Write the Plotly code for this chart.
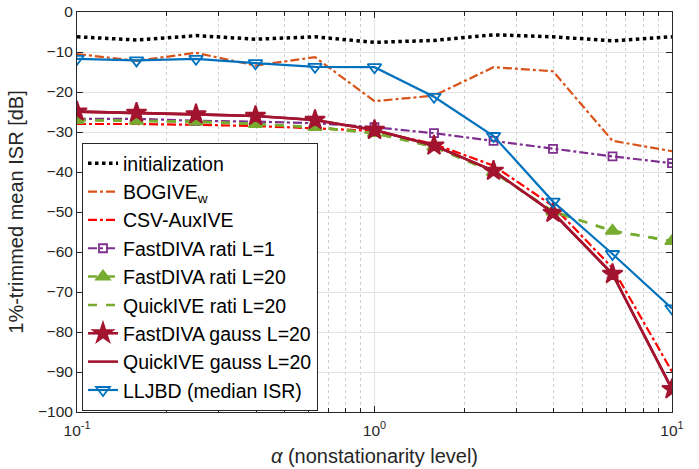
import numpy as np
import plotly.graph_objects as go

alpha = [0.1, 0.1585, 0.2512, 0.3981, 0.631, 1.0, 1.585, 2.512, 3.981, 6.31, 10.0]

init = [-6.2, -7.0, -5.9, -6.8, -6.2, -7.6, -7.1, -5.7, -6.2, -7.2, -6.2]
bogive = [-10.5, -12.2, -10.2, -13.4, -11.3, -22.3, -20.9, -13.8, -14.8, -32.2, -34.8]
csv_aux = [-28.0, -28.0, -28.2, -28.5, -29.1, -29.7, -33.0, -38.4, -48.5, -64.0, -89.9]
fd_rati1 = [-26.7, -26.7, -27.2, -27.4, -27.8, -28.8, -30.3, -32.2, -34.2, -36.1, -37.8]
fd_rati20 = [-27.0, -27.2, -27.4, -28.0, -28.8, -30.3, -33.7, -40.0, -49.9, -54.7, -57.3]
qi_rati20 = [-27.0, -27.2, -27.4, -28.0, -28.8, -30.3, -33.7, -40.0, -49.9, -54.7, -57.3]
fd_gauss20 = [-24.9, -25.2, -25.6, -26.0, -27.0, -29.5, -33.4, -39.7, -50.2, -65.5, -94.3]
qi_gauss20 = [-24.9, -25.2, -25.6, -26.0, -27.0, -29.5, -33.4, -39.7, -50.2, -65.5, -94.3]
lljbd = [-11.7, -12.1, -11.7, -12.8, -13.7, -13.8, -21.2, -31.0, -47.4, -60.5, -74.1]

FONT = "Arial, Liberation Sans, Helvetica"

fig = go.Figure()

def add(y, name, color, dash, width=2.2, symbol=None, msize=10, mfill=None):
    mode = "lines+markers" if symbol else "lines"
    marker = None
    if symbol:
        marker = dict(symbol=symbol, size=msize, color=mfill if mfill else color,
                      line=dict(color=color, width=1.8))
    fig.add_trace(go.Scatter(x=alpha, y=y, name=name, mode=mode,
                             line=dict(color=color, dash=dash, width=width),
                             marker=marker))

add(init, "initialization", "#000000", "dot", width=3.5)
add(bogive, "BOGIVE<sub>w</sub>", "#D95319", "dashdot")
add(csv_aux, "CSV-AuxIVE", "#FF0000", "dashdot")
add(fd_rati1, "FastDIVA rati L=1", "#7E2F8E", "dashdot", symbol="square-open", msize=8)
add(fd_rati20, "FastDIVA rati L=20", "#77AC30", "dash", width=2.6, symbol="triangle-up", msize=12)
add(qi_rati20, "QuickIVE rati L=20", "#77AC30", "dash", width=2.6)
add(fd_gauss20, "FastDIVA gauss L=20", "#A2142F", "solid", width=2.6, symbol="star", msize=15)
add(qi_gauss20, "QuickIVE gauss L=20", "#A2142F", "solid", width=2.6)
add(lljbd, "LLJBD (median ISR)", "#0072BD", "solid", symbol="triangle-down-open", msize=12)

axis_common = dict(
    showline=True, linecolor="#262626", linewidth=1, mirror="ticks",
    ticks="inside", ticklen=6, tickcolor="#262626",
    showgrid=True, gridcolor="#E3E3E3", gridwidth=1,
    zeroline=False, automargin=False,
    tickfont=dict(family=FONT, size=15.5, color="#262626"),
)

fig.update_xaxes(
    type="log", range=[-1, 1],
    tickvals=[0.1, 1, 10],
    ticktext=["10<sup>-1</sup>", "10<sup>0</sup>", "10<sup>1</sup>"],
    ticklabelstandoff=4,
    minor=dict(ticks="inside", ticklen=4, tickcolor="#262626", showgrid=True,
               gridcolor="#D0D0D0", griddash="dot", gridwidth=1,
               tickvals=[0.2, 0.3, 0.4, 0.5, 0.6, 0.7, 0.8, 0.9, 2, 3, 4, 5, 6, 7, 8, 9]),
    title=dict(text="<i>α</i> (nonstationarity level)", standoff=11,
               font=dict(family=FONT, size=20, color="#262626")),
    **axis_common,
)
fig.update_yaxes(
    range=[-100, 0], dtick=10,
    title=dict(text="1%-trimmed mean ISR [dB]", standoff=8,
               font=dict(family=FONT, size=20, color="#262626")),
    **axis_common,
)

fig.update_layout(
    width=699, height=469,
    margin=dict(l=77, r=27, t=12, b=57),
    plot_bgcolor="white", paper_bgcolor="white",
    font=dict(family=FONT, size=20, color="#000000"),
    legend=dict(x=0.0084, y=0.6725, xanchor="left", yanchor="top",
                bgcolor="white", bordercolor="#262626", borderwidth=1,
                font=dict(family=FONT, size=19.5, color="#000000"),
                itemwidth=30, tracegroupgap=0),
    showlegend=True,
)

fig.write_html("out.html")
